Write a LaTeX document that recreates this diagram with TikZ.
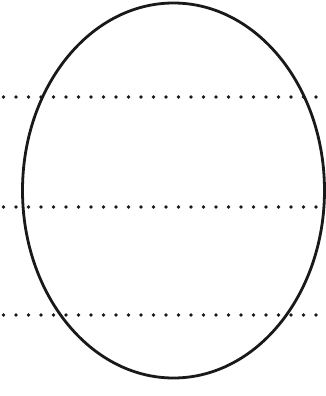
\documentclass[tikz,border=0pt]{standalone}
\begin{document}
\begin{tikzpicture}[x=1pt,y=-1pt,
  dotline/.style={line width=3.8pt, line cap=round, dash pattern=on 0pt off 12.5pt, black!90},
  outline/.style={line width=2.8pt, black!90}]
\useasboundingbox (0,0) rectangle (326,396);
\coordinate (a1) at (3.5,97);  \coordinate (b1) at (326,97);
\coordinate (a2) at (3.5,207); \coordinate (b2) at (326,207);
\coordinate (a3) at (3.5,315); \coordinate (b3) at (326,315);
\draw[dotline] (a1) -- (b1);
\draw[dotline] (a2) -- (b2);
\draw[dotline] (a3) -- (b3);
\coordinate (c) at (173.5,190.5);
\draw[outline] (c) ellipse [x radius=151, y radius=187.5];
\end{tikzpicture}
\end{document}
